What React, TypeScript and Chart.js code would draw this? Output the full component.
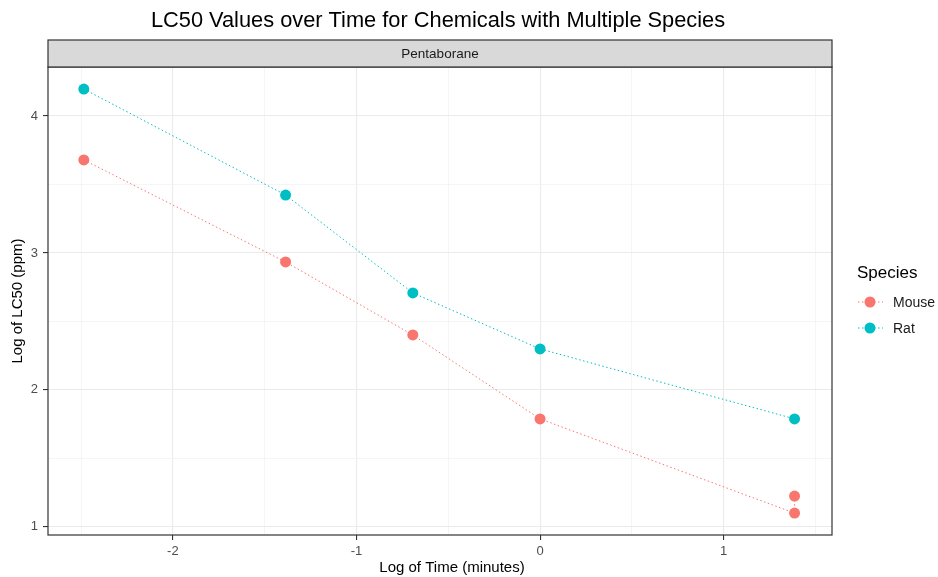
import React, { useEffect, useRef } from "react";
import { Chart, registerables } from "chart.js";

Chart.register(...registerables);

const titleText = "LC50 Values over Time for Chemicals with Multiple Species";
const stripText = "Pentaborane";
const xTitle = "Log of Time (minutes)";
const yTitle = "Log of LC50 (ppm)";
const legendTitle = "Species";

const mouseX = [-2.485, -1.386, -0.693, 0, 1.386, 1.386];
const mouseY = [3.679, 2.934, 2.401, 1.788, 1.1, 1.224];
const ratX = [-2.485, -1.386, -0.693, 0, 1.386];
const ratY = [4.197, 3.423, 2.708, 2.299, 1.788];

const seriesNames = ["Mouse", "Rat"];
const seriesColors = ["#F8766D", "#00BFC4"];

const xTicks = [-2.5, -2, -1.5, -1, -0.5, 0, 0.5, 1, 1.5];
const yTicks = [1, 1.5, 2, 2.5, 3, 3.5, 4];

const FONT = "'Liberation Sans', Arial, sans-serif";

const isMajor = (v: number) => Math.abs(v - Math.round(v)) < 1e-9;

const decorPlugin = {
  id: "decor",
  afterDraw(chart: any) {
    const ctx = chart.ctx;
    const a = chart.chartArea;
    ctx.save();
    // panel border
    ctx.strokeStyle = "#333333";
    ctx.lineWidth = 1.2;
    ctx.strokeRect(a.left, a.top, a.right - a.left, a.bottom - a.top);
    // strip
    const stripTop = 40;
    ctx.fillStyle = "#D9D9D9";
    ctx.fillRect(a.left, stripTop, a.right - a.left, a.top - stripTop);
    ctx.strokeRect(a.left, stripTop, a.right - a.left, a.top - stripTop);
    ctx.fillStyle = "#1A1A1A";
    ctx.font = `13.5px ${FONT}`;
    ctx.textAlign = "center";
    ctx.textBaseline = "middle";
    ctx.fillText(stripText, (a.left + a.right) / 2, (stripTop + a.top) / 2 + 1);
    // title
    ctx.fillStyle = "#000000";
    ctx.font = `21.8px ${FONT}`;
    ctx.fillText(titleText, (a.left + a.right) / 2 - 2, 21);
    // axis titles
    ctx.font = `15px ${FONT}`;
    ctx.fillText(xTitle, (a.left + a.right) / 2 + 12, 568);
    ctx.save();
    ctx.translate(18, (a.top + a.bottom) / 2);
    ctx.rotate(-Math.PI / 2);
    ctx.fillText(yTitle, 0, 0);
    ctx.restore();
    // legend
    ctx.textAlign = "left";
    ctx.font = `17px ${FONT}`;
    ctx.fillText(legendTitle, 857, 273);
    ctx.font = `14px ${FONT}`;
    const rows = [302, 328];
    seriesNames.forEach((name, i) => {
      const y = rows[i];
      ctx.strokeStyle = seriesColors[i];
      ctx.lineWidth = 1;
      ctx.setLineDash([1.5, 2.5]);
      ctx.beginPath();
      ctx.moveTo(858, y);
      ctx.lineTo(883, y);
      ctx.stroke();
      ctx.setLineDash([]);
      ctx.fillStyle = seriesColors[i];
      ctx.beginPath();
      ctx.arc(870, y, 5.5, 0, Math.PI * 2);
      ctx.fill();
      ctx.fillStyle = "#1A1A1A";
      ctx.fillText(name, 893, y + 1);
    });
    ctx.restore();
  },
};

export default function App() {
  const ref = useRef<HTMLCanvasElement | null>(null);
  useEffect(() => {
    if (!ref.current) return;
    const mk = (xs: number[], ys: number[]) => xs.map((x, i) => ({ x, y: ys[i] }));
    const ds = (i: number, xs: number[], ys: number[]) => ({
      label: seriesNames[i],
      data: mk(xs, ys),
      showLine: true,
      borderColor: seriesColors[i],
      backgroundColor: seriesColors[i],
      borderWidth: 1,
      borderDash: [1.5, 2.5],
      pointRadius: 5.5,
      pointBorderWidth: 0,
      pointBackgroundColor: seriesColors[i],
    });
    const gridOpts = {
      color: (c: any) => (c.tick && isMajor(c.tick.value) ? "#EBEBEB" : "#F2F2F2"),
      lineWidth: (c: any) => (c.tick && isMajor(c.tick.value) ? 1.1 : 0.8),
      tickColor: (c: any) => (c.tick && isMajor(c.tick.value) ? "#333333" : "rgba(0,0,0,0)"),
      tickLength: 5,
    };
    const tickOpts = (pad: number) => ({
      autoSkip: false,
      maxRotation: 0,
      padding: pad,
      color: "#4D4D4D",
      font: { family: FONT, size: 13 },
      callback: (v: any) => (isMajor(Number(v)) ? String(Math.round(Number(v))) : ""),
    });
    const chart = new Chart(ref.current, {
      type: "scatter",
      data: {
        datasets: [ds(0, mouseX, mouseY), ds(1, ratX, ratY)],
      },
      options: {
        animation: false,
        responsive: false,
        maintainAspectRatio: false,
        layout: { padding: { left: 8, right: 106, top: 67, bottom: 14 } },
        plugins: { legend: { display: false }, tooltip: { enabled: false } },
        scales: {
          x: {
            type: "linear",
            min: -2.68,
            max: 1.59,
            afterBuildTicks: (s: any) => {
              s.ticks = xTicks.map((v) => ({ value: v }));
            },
            afterFit: (s: any) => {
              s.height = 28;
            },
            grid: gridOpts,
            border: { display: false },
            ticks: tickOpts(4),
          },
          y: {
            type: "linear",
            min: 0.94,
            max: 4.358,
            afterBuildTicks: (s: any) => {
              s.ticks = yTicks.map((v) => ({ value: v }));
            },
            afterFit: (s: any) => {
              s.width = 40;
            },
            grid: gridOpts,
            border: { display: false },
            ticks: tickOpts(5),
          },
        },
      },
      plugins: [decorPlugin],
    } as any);
    return () => chart.destroy();
  }, []);
  return (
    <div style={{ position: "fixed", left: 0, top: 0, width: 938, height: 577, background: "#fff" }}>
      <canvas ref={ref} width={938} height={577} style={{ width: 938, height: 577, display: "block" }} />
    </div>
  );
}
